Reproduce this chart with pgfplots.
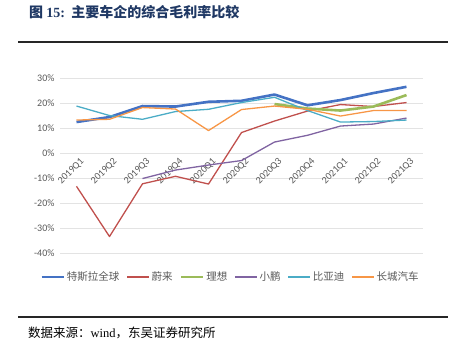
\documentclass[border=0pt]{standalone}
\usepackage{pgfplots}
\pgfplotsset{compat=1.18}
\usepackage{fontspec}
\setmainfont{Carlito}
\newfontfamily\cjk{Noto Sans CJK SC}
\newfontfamily\serif{Liberation Serif}
\definecolor{tesla}{HTML}{4472C4}
\definecolor{nio}{HTML}{C0504D}
\definecolor{li}{HTML}{9BBB59}
\definecolor{xp}{HTML}{8064A2}
\definecolor{byd}{HTML}{4BACC6}
\definecolor{gw}{HTML}{F79646}
\definecolor{navy}{HTML}{1F3864}
\definecolor{tickgray}{HTML}{595959}
\begin{document}
\begin{tikzpicture}[x=1pt,y=1pt]
\useasboundingbox (0,0) rectangle (454,353);
\node[anchor=west,inner sep=0pt,text=navy] at (29,341) {\fontsize{14}{16}\selectfont\cjk\bfseries 图\ {\serif\bfseries 15:}\ \ 主要车企的综合毛利率比较};
\draw[line width=1.6pt,black!85] (18,311) -- (448,311);
\draw[line width=1.6pt,black!85] (18,36) -- (448,36);
\node[anchor=west,inner sep=0pt] at (28,20) {\fontsize{12.5}{14}\selectfont\cjk 数据来源：{\serif wind}，东吴证券研究所};
\begin{axis}[
  at={(60pt,99.7pt)}, anchor=south west,
  scale only axis, width=363pt, height=175pt,
  xmin=-0.5, xmax=10.5, ymin=-40, ymax=30,
  axis x line=middle, axis y line=left,
  axis line style={draw=none},
  major tick length=0pt,
  ytick={-40,-30,...,30},
  yticklabel={\pgfmathprintnumber{\tick}\%},
  ymajorgrids, major grid style={gray!22, line width=0.8pt},
  xtick={0,...,10},
  xticklabels={2019Q1,2019Q2,2019Q3,2019Q4,2020Q1,2020Q2,2020Q3,2020Q4,2021Q1,2021Q2,2021Q3},
  x tick label style={rotate=45, anchor=east, xshift=3pt, yshift=-9pt, text=tickgray, font=\fontsize{10}{11}\selectfont},
  y tick label style={text=tickgray, font=\fontsize{10}{11}\selectfont, xshift=-2pt},
  /pgf/number format/assume math mode=true,
  legend columns=6,
  legend style={draw=none, fill=none, at={(170.5pt,-23.7pt)}, anchor=center,
    font=\fontsize{10.5}{12}\selectfont\cjk, text=tickgray,
    /tikz/every even column/.append style={column sep=5pt}},
  legend image code/.code={\draw[#1] (0pt,0pt) -- (22pt,0pt);},
  every axis plot/.append style={line join=round, no markers},
]
\addplot[tesla, line width=2.6pt] coordinates {(0,12.5)(1,14.5)(2,18.9)(3,18.7)(4,20.6)(5,21.0)(6,23.5)(7,19.2)(8,21.3)(9,24.1)(10,26.6)};
\addlegendentry{特斯拉全球}
\addplot[nio, line width=1.3pt] coordinates {(0,-13.2)(1,-33.3)(2,-12.2)(3,-9.2)(4,-12.3)(5,8.3)(6,12.9)(7,16.9)(8,19.5)(9,18.7)(10,20.3)};
\addlegendentry{蔚来}
\addplot[li, line width=2.6pt] coordinates {(6,19.7)(7,17.9)(8,17.1)(9,18.7)(10,23.3)};
\addlegendentry{理想}
\addplot[xp, line width=1.3pt] coordinates {(2,-10.1)(3,-6.7)(4,-4.7)(5,-2.9)(6,4.5)(7,7.2)(8,10.9)(9,11.7)(10,14.1)};
\addlegendentry{小鹏}
\addplot[byd, line width=1.3pt] coordinates {(0,18.9)(1,15.1)(2,13.6)(3,16.7)(4,17.6)(5,20.3)(6,22.4)(7,17.1)(8,12.5)(9,12.7)(10,13.3)};
\addlegendentry{比亚迪}
\addplot[gw, line width=1.3pt] coordinates {(0,13.3)(1,13.6)(2,18.3)(3,17.7)(4,9.1)(5,17.5)(6,18.9)(7,17.6)(8,14.9)(9,17.1)(10,17.1)};
\addlegendentry{长城汽车}
\end{axis}
\end{tikzpicture}
\end{document}
